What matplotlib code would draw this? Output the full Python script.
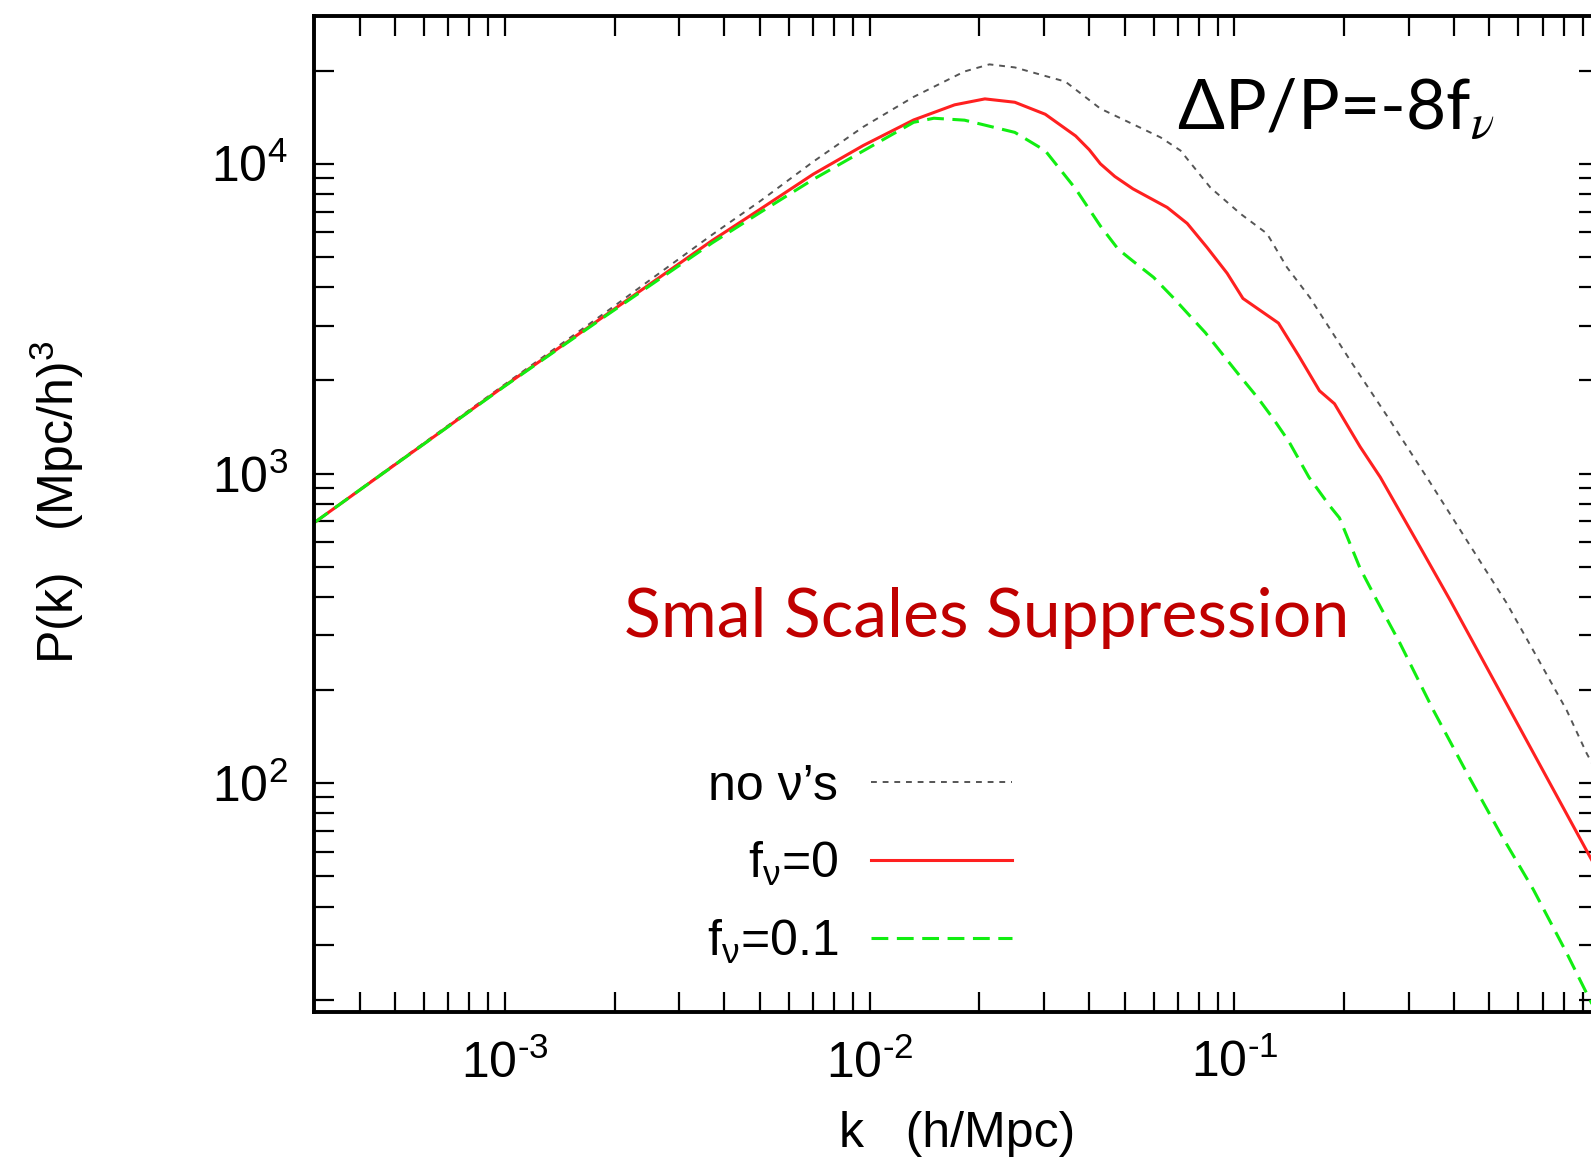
import matplotlib
matplotlib.use("Agg")
import matplotlib.pyplot as plt
from matplotlib.ticker import LogLocator, NullFormatter

plt.rcParams['font.family'] = ['Liberation Sans', 'DejaVu Sans']
plt.rcParams['axes.unicode_minus'] = False

# ---- data ----
k_red = [3.0e-4, 4.6e-4, 1.0e-3, 1.9e-3, 3.7e-3, 5.0e-3, 7.0e-3, 9.6e-3, 0.0132, 0.0171,
         0.0207, 0.025, 0.0303, 0.0367, 0.0400, 0.0429, 0.0470, 0.0527, 0.0654, 0.0742,
         0.0841, 0.0955, 0.1055, 0.132, 0.150, 0.171, 0.188, 0.221, 0.251, 0.324,
         0.390, 0.607, 0.942, 1.0]
P_red = [693, 995, 1920, 3260, 5650, 7120, 9250, 11450, 13850, 15500,
         16200, 15800, 14450, 12300, 11100, 10000, 9100, 8300, 7230, 6420,
         5370, 4430, 3675, 3060, 2400, 1850, 1680, 1220, 973, 574,
         390, 150, 58, 51]

k_green = [3.0e-4, 4.6e-4, 1.0e-3, 1.9e-3, 3.7e-3, 5.0e-3, 7.0e-3, 9.6e-3, 0.0132, 0.0150,
           0.0182, 0.025, 0.0303, 0.0367, 0.0429, 0.0480, 0.0527, 0.0600, 0.0679, 0.0760,
           0.0832, 0.1023, 0.1161, 0.1279, 0.1409, 0.160, 0.182, 0.194, 0.221, 0.2455,
           0.2843, 0.351, 0.4335, 0.535, 0.660, 0.814, 0.923, 1.0]
P_green = [693, 995, 1915, 3240, 5550, 6950, 8900, 11000, 13610, 14030,
           13830, 12630, 11020, 8300, 6300, 5300, 4850, 4300, 3700, 3200,
           2850, 2100, 1750, 1500, 1270, 973, 789, 719, 494, 390,
           283, 172, 108, 69, 45.3, 28.3, 21.0, 17.4]

k_gray = [3.0e-4, 4.6e-4, 1.0e-3, 1.9e-3, 3.7e-3, 5.0e-3, 7.0e-3, 9.6e-3, 0.0132, 0.0182,
          0.0213, 0.025, 0.0344, 0.0429, 0.0627, 0.0711, 0.0859, 0.1038, 0.1228, 0.1393,
          0.161, 0.2075, 0.2667, 0.3433, 0.4417, 0.557, 0.687, 0.814, 0.923, 1.0]
P_gray = [693, 1000, 1940, 3330, 5900, 7560, 10150, 13150, 16440, 19860,
          20940, 20470, 18420, 15070, 12170, 11040, 8380, 6900, 5950, 4630,
          3700, 2320, 1486, 938, 587, 382, 246, 172, 125, 105]

labels = ['no ν’s', r'f$_\mathregular{ν}$=0', r'f$_\mathregular{ν}$=0.1']
x_ticks = [1e-3, 1e-2, 1e-1]
x_tick_labels = [r'$\mathregular{10^{‐3}}$', r'$\mathregular{10^{‐2}}$', r'$\mathregular{10^{‐1}}$']
y_ticks = [1e2, 1e3, 1e4]
y_tick_labels = [r'$\mathregular{10^{2}}$', r'$\mathregular{10^{3}}$', r'$\mathregular{10^{4}}$']

# ---- figure ----
W, H = 1591, 1162
fig = plt.figure(figsize=(W / 100, H / 100), dpi=100)
ax = fig.add_axes([314 / W, (H - 1011.7) / H, 1285.3 / W, 995.7 / H])

ax.plot(k_gray, P_gray, color='#555555', lw=1.4, linestyle=(0, (3, 3)), label=labels[0])
ax.plot(k_red, P_red, color='#ff2020', lw=2.2, linestyle='-', label=labels[1])
ax.plot(k_green, P_green, color='#11ee11', lw=2.2, linestyle=(0, (5.5, 2.8)), label=labels[2])

ax.set_xscale('log')
ax.set_yscale('log')
ax.set_xlim(3e-4, 1.0)
ax.set_ylim(18.3, 3.0e4)

ax.set_xticks(x_ticks, labels=x_tick_labels)
ax.set_yticks(y_ticks, labels=y_tick_labels)
ax.xaxis.set_minor_locator(LogLocator(base=10, subs=range(2, 10), numticks=50))
ax.yaxis.set_minor_locator(LogLocator(base=10, subs=range(2, 10), numticks=50))
ax.xaxis.set_minor_formatter(NullFormatter())
ax.yaxis.set_minor_formatter(NullFormatter())

for s in ax.spines.values():
    s.set_linewidth(2.8)
ax.tick_params(which='both', direction='in', top=True, right=True,
               length=14.4, width=1.6, colors='black')
ax.tick_params(axis='x', which='major', labelsize=36, pad=20)
ax.tick_params(axis='y', which='major', labelsize=36, pad=19)

ax.set_xlabel('k   (h/Mpc)', fontsize=36)
ax.set_ylabel(r'P(k)   (Mpc/h)$^\mathregular{3}$', fontsize=36)
ax.xaxis.set_label_coords(0.5, -0.100)
ax.yaxis.set_label_coords(-0.1774, 0.512)

leg = ax.legend(loc='center right', bbox_to_anchor=(0.543, 0.1474),
                frameon=False, markerfirst=False, fontsize=36,
                handlelength=2.82, handletextpad=0.66, labelspacing=0.60,
                borderpad=0, borderaxespad=0)

ax.text(0.2412, 0.3763, 'Smal Scales Suppression', transform=ax.transAxes,
        ha='left', va='baseline', color='#c00000', fontsize=49,
        family=['Lato', 'Open Sans', 'DejaVu Sans'])
ax.text(0.6714, 0.8855, r'ΔP/P=-8f$_{\nu}$', transform=ax.transAxes,
        ha='left', va='baseline', color='black', fontsize=50,
        family=['Lato', 'Open Sans', 'DejaVu Sans'], math_fontfamily='stix')

fig.savefig('out.png', dpi=100)
